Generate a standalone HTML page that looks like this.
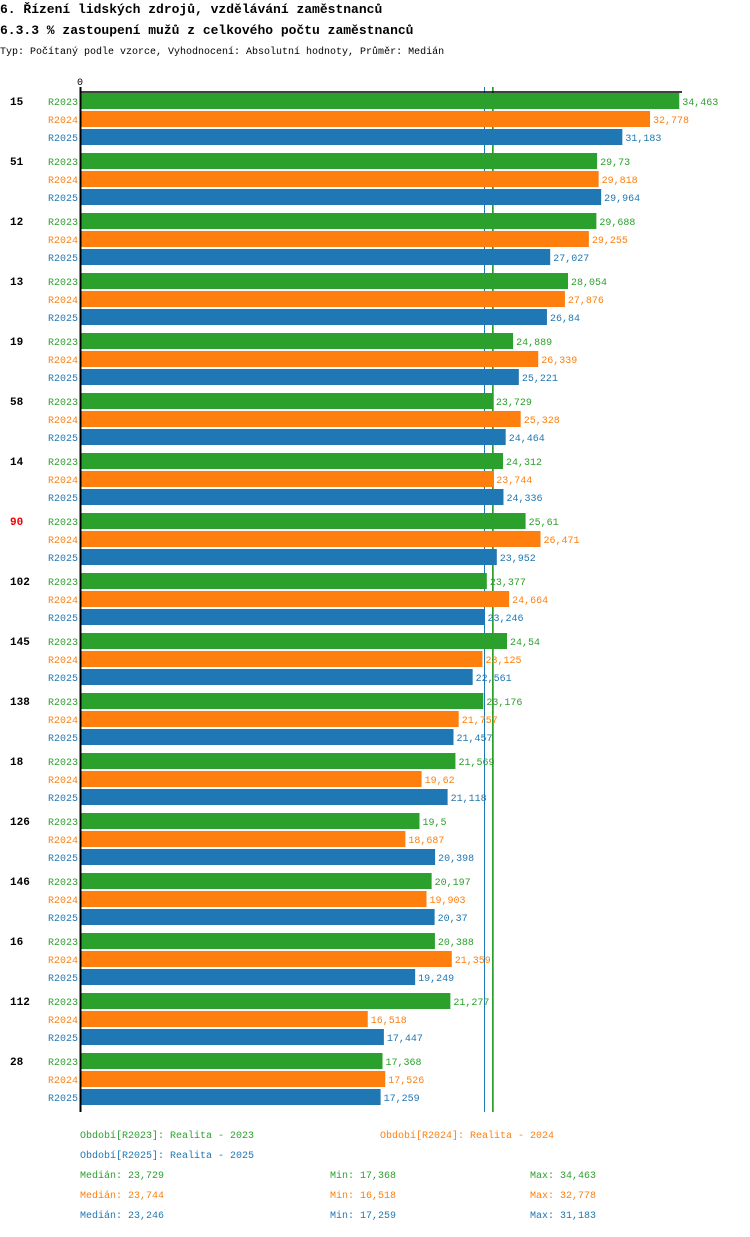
<!DOCTYPE html>
<html><head><meta charset="utf-8"><style>
body{margin:0;background:#fff;width:750px;height:1232px;overflow:hidden;font-family:"Liberation Mono",monospace}
svg text{font-family:"Liberation Mono",monospace}
</style></head><body>
<svg id="c" width="750" height="1232" xmlns="http://www.w3.org/2000/svg">
<text x="0" y="13" font-size="13" font-weight="bold">6. Řízení lidských zdrojů, vzdělávání zaměstnanců</text>
<text x="0" y="34" font-size="13" font-weight="bold">6.3.3 % zastoupení mužů z celkového počtu zaměstnanců</text>
<text x="0" y="54" font-size="10">Typ: Počítaný podle vzorce, Vyhodnocení: Absolutní hodnoty, Průměr: Medián</text>
<text x="80" y="85" font-size="10" text-anchor="middle">0</text>
<g id="medians"></g>
<g id="bars"></g>
<line x1="80" y1="92" x2="682" y2="92" stroke="#000" stroke-width="1.5"/>
<line x1="80.5" y1="87" x2="80.5" y2="1112" stroke="#000" stroke-width="2"/>
<g id="legend"></g>
</svg>
<script>
const categories=["15","51","12","13","19","58","14","90","102","145","138","18","126","146","16","112","28"];
const seriesNames=["R2023","R2024","R2025"];
const r2023=[34.463,29.73,29.688,28.054,24.889,23.729,24.312,25.61,23.377,24.54,23.176,21.569,19.5,20.197,20.388,21.277,17.368];
const r2024=[32.778,29.818,29.255,27.876,26.339,25.328,23.744,26.471,24.664,23.125,21.757,19.62,18.687,19.903,21.359,16.518,17.526];
const r2025=[31.183,29.964,27.027,26.84,25.221,24.464,24.336,23.952,23.246,22.561,21.457,21.118,20.398,20.37,19.249,17.447,17.259];
const highlighted=["90"];
const colors=["#2ca02c","#ff7f0e","#1f77b4"];
const NS="http://www.w3.org/2000/svg";
const x=v=>81+v*17.36;
const fmt=v=>String(v).replace('.',',');
const series=[r2023,r2024,r2025];
const g=document.getElementById('bars');
const mg=document.getElementById('medians');
function mk(t,a){const e=document.createElementNS(NS,t);for(const k in a)e.setAttribute(k,a[k]);return e;}
const sorted=a=>[...a].sort((p,q)=>p-q);
const median=a=>sorted(a)[Math.floor(a.length/2)];
series.forEach((s,j)=>{
  const m=median(s);
  const px=Math.floor(x(m))+0.5;
  const l=mk('line',{x1:px,x2:px,y1:87,y2:1112,stroke:colors[j],'stroke-width':1});
  
  
  mg.appendChild(l);
});
categories.forEach((c,i)=>{
  const top=93+60*i;
  const lab=mk('text',{x:10,y:top+12,'font-size':11,'font-weight':'bold','font-family':'Liberation Sans, sans-serif',fill:highlighted.includes(c)?'#e00':'#000'});
  
  
  lab.textContent=c;g.appendChild(lab);
  series.forEach((s,j)=>{
    const y=top+18*j;
    const sl=mk('text',{x:78,y:y+12,'font-size':10,'text-anchor':'end',fill:colors[j]});
    
    
    sl.textContent=seriesNames[j];g.appendChild(sl);
    const r=mk('rect',{x:81,y:y,width:x(s[i])-81,height:16,fill:colors[j]});
    
    
    g.appendChild(r);
    const vt=mk('text',{x:x(s[i])+3,y:y+12,'font-size':10,fill:colors[j]});
    
    
    vt.textContent=fmt(s[i]);g.appendChild(vt);
  });
});
const lg=document.getElementById('legend');
function t(txt,xx,yy,col,name){const e=mk('text',{x:xx,y:yy,'font-size':10,fill:col});
  
  
  e.textContent=txt;lg.appendChild(e);}
t('Období[R2023]: Realita - 2023',80,1138,colors[0],'legend-entry');
t('Období[R2024]: Realita - 2024',380,1138,colors[1],'legend-entry');
t('Období[R2025]: Realita - 2025',80,1158,colors[2],'legend-entry');
series.forEach((s,j)=>{
  const y=1178+20*j;
  t('Medián: '+fmt(median(s)),80,y,colors[j],'median-stat');
  t('Min: '+fmt(Math.min(...s)),330,y,colors[j],'min-stat');
  t('Max: '+fmt(Math.max(...s)),530,y,colors[j],'max-stat');
});
</script>
</body></html>
